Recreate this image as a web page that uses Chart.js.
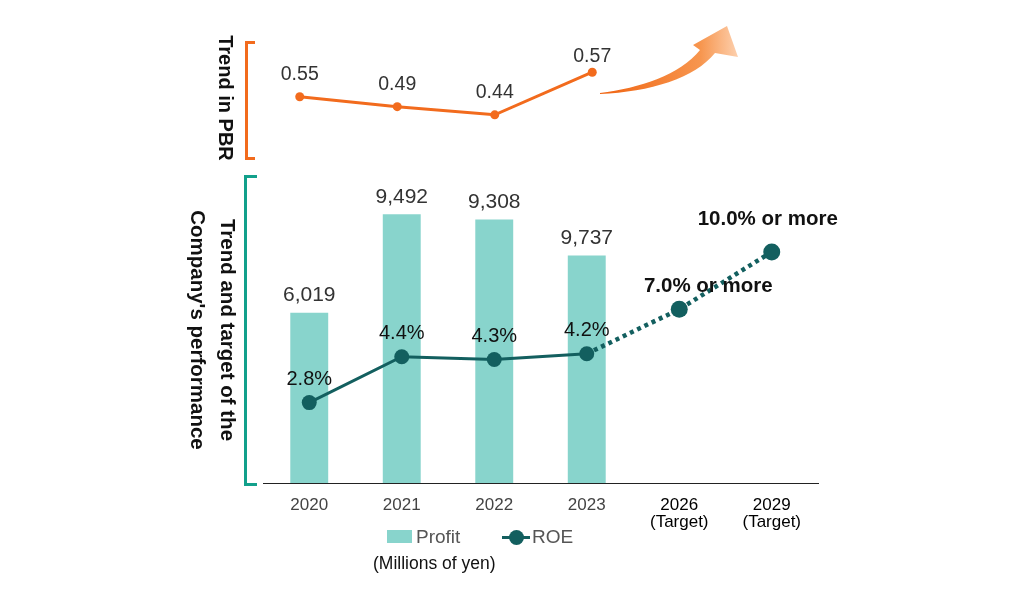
<!DOCTYPE html>
<html>
<head>
<meta charset="utf-8">
<script src="https://cdn.jsdelivr.net/npm/chart.js@4.4.1/dist/chart.umd.min.js"></script>
<style>
  html, body { margin:0; padding:0; background:#fff; }
  body { width:1020px; height:600px; position:relative; overflow:hidden; font-family:"Liberation Sans", Arial, sans-serif; }
  canvas { position:absolute; left:0; top:0; }
  .rot { position:absolute; transform:translate(-50%,-50%) rotate(90deg); white-space:nowrap; font-weight:bold; color:#111; font-size:20.5px; }
  .bracket { position:absolute; border:3px solid; border-right:none; width:7px; }
  .legend { position:absolute; font-size:19px; color:#555; line-height:22px; }
</style>
</head>
<body>
<canvas id="pbrChart" width="1020" height="600"></canvas>
<canvas id="perfChart" width="1020" height="600"></canvas>

<!-- brackets + side titles -->
<div class="bracket" style="left:245px; top:41px; height:113px; border-color:#f26b1d;"></div>
<div class="bracket" style="left:244px; top:175px; height:305px; border-color:#12a08b; width:10px;"></div>
<div class="rot" style="left:225px; top:98px; font-size:20px;">Trend in PBR</div>
<div class="rot" style="left:228px; top:330px;">Trend and target of the</div>
<div class="rot" style="left:198px; top:330px;">Company's performance</div>

<!-- curved arrow -->
<svg width="1020" height="600" style="position:absolute;left:0;top:0">
  <defs>
    <linearGradient id="arrowGrad" x1="600" y1="0" x2="740" y2="0" gradientUnits="userSpaceOnUse">
      <stop offset="0" stop-color="#f06412"/>
      <stop offset="0.72" stop-color="#f7964f"/>
      <stop offset="1" stop-color="#fdd3b3"/>
    </linearGradient>
  </defs>
  <path d="M600,93 C640,88 680,75 700,50 L693,45 L727,26 L738,57 L715,53 C695,78 650,92 600,94 Z" fill="url(#arrowGrad)"/>
</svg>

<!-- legend -->
<div style="position:absolute;left:387px;top:530px;width:25px;height:13px;background:#88d4cc"></div>
<div class="legend" style="left:416px;top:526px;">Profit</div>
<div style="position:absolute;left:502px;top:536px;width:28px;height:3px;background:#135f5f"></div>
<div style="position:absolute;left:509px;top:530px;width:15px;height:15px;border-radius:50%;background:#135f5f"></div>
<div class="legend" style="left:532px;top:526px;">ROE</div>
<div class="legend" style="left:373px;top:552px;font-size:17.5px;color:#111;">(Millions of yen)</div>

<script>
// ── DATI ─────────────────────────────────────

const pbrYears = ['2020', '2021', '2022', '2023'];
const pbrLabels = ['0.55', '0.49', '0.44', '0.57'];
// heights as drawn in the figure (the 2023 point is not to scale)
const pbrDrawn = [0.55, 0.49, 0.44, 0.70];

const years = ['2020', '2021', '2022', '2023', ['2026', '(Target)'], ['2029', '(Target)']];
const profitLabels = ['6,019', '9,492', '9,308', '9,737', '', ''];
// bar heights as drawn (millions of yen)
const profitDrawn = [6019, 9492, 9308, 8040, null, null];
const roeLabels = ['2.8%', '4.4%', '4.3%', '4.2%', '7.0% or more', '10.0% or more'];
// point heights as drawn (%)
const roeDrawn = [2.8, 4.4, 4.3, 4.5, 6.05, 8.05];

const ORANGE = '#f26b1d';
const BAR = '#88d4cc';
const ROE = '#135f5f';
const FONT = '"Liberation Sans", Arial, sans-serif';

Chart.defaults.font.family = FONT;

// ── ETICHETTE ────────────────────────────────

const pbrLabelPlugin = {
  id: 'pbrLabels',
  afterDatasetsDraw(chart) {
    const ctx = chart.ctx;
    const meta = chart.getDatasetMeta(0);
    ctx.save();
    ctx.font = '19.5px ' + FONT;
    ctx.fillStyle = '#333';
    ctx.textAlign = 'center';
    ctx.textBaseline = 'middle';
    meta.data.forEach((pt, i) => ctx.fillText(pbrLabels[i], pt.x, pt.y - (i === 3 ? 16 : 22)));
    ctx.restore();
  }
};

const perfLabelPlugin = {
  id: 'perfLabels',
  afterDatasetsDraw(chart) {
    const ctx = chart.ctx;
    ctx.save();
    ctx.textAlign = 'center';
    ctx.textBaseline = 'middle';

    // profit
    ctx.font = '21px ' + FONT;
    ctx.fillStyle = '#333';
    chart.getDatasetMeta(1).data.forEach((bar, i) => {
      if (profitDrawn[i] == null) return;
      ctx.fillText(profitLabels[i], bar.x, bar.y - 17);
    });

    // ROE
    ctx.fillStyle = '#111';
    chart.getDatasetMeta(0).data.forEach((pt, i) => {
      if (i < 4) {
        ctx.font = '20px ' + FONT;
        ctx.fillText(roeLabels[i], pt.x, pt.y - 23);
      } else {
        ctx.font = 'bold 20.5px ' + FONT;
        const dx = i === 4 ? 29 : -4;
        const dy = i === 4 ? -23 : -33;
        ctx.fillText(roeLabels[i], pt.x + dx, pt.y + dy);
      }
    });
    ctx.restore();
  }
};

// ── GRAFICO PBR ──────────────────────────────

new Chart(document.getElementById('pbrChart'), {
  type: 'line',
  data: {
    labels: pbrYears,
    datasets: [{
      label: 'PBR',
      data: pbrDrawn,
      borderColor: ORANGE,
      backgroundColor: ORANGE,
      borderWidth: 3,
      pointRadius: 4.5,
      pointBackgroundColor: ORANGE,
      pointBorderWidth: 0,
      tension: 0
    }]
  },
  options: {
    responsive: false,
    animation: false,
    layout: { padding: { left: 251, right: 379, top: 64, bottom: 454 } },
    plugins: { legend: { display: false }, tooltip: { enabled: false } },
    scales: {
      x: { display: false, offset: true },
      y: { display: false, min: 0.25, max: 0.75 }
    }
  },
  plugins: [pbrLabelPlugin]
});

// ── GRAFICO PROFIT / ROE ─────────────────────

new Chart(document.getElementById('perfChart'), {
  type: 'bar',
  data: {
    labels: years,
    datasets: [
      {
        type: 'line',
        label: 'ROE',
        data: roeDrawn,
        yAxisID: 'y2',
        order: 0,
        borderColor: ROE,
        backgroundColor: ROE,
        borderWidth: 3,
        pointRadius: [7.5, 7.5, 7.5, 7.5, 8.5, 8.5],
        pointBackgroundColor: ROE,
        pointBorderWidth: 0,
        tension: 0,
        segment: {
          borderDash: c => c.p0DataIndex >= 3 ? [4, 4] : undefined,
          borderWidth: c => c.p0DataIndex >= 3 ? 4.5 : 3
        }
      },
      {
        type: 'bar',
        label: 'Profit',
        data: profitDrawn,
        yAxisID: 'y',
        order: 1,
        backgroundColor: BAR,
        barPercentage: 0.41,
        categoryPercentage: 1
      }
    ]
  },
  options: {
    responsive: false,
    animation: false,
    layout: { padding: { left: 263, right: 202, top: 183, bottom: 63 } },
    plugins: { legend: { display: false }, tooltip: { enabled: false } },
    scales: {
      x: {
        offset: true,
        grid: { display: false },
        border: { display: true, color: '#222', width: 1 },
        ticks: {
          padding: 6,
          maxRotation: 0,
          autoSkip: false,
          color: c => c.index >= 4 ? '#000' : '#444',
          font: { size: 17, lineHeight: 1.0 }
        }
      },
      y: { display: false, min: 0, max: 10600 },
      y2: { display: false, min: 0, max: 10.45 }
    }
  },
  plugins: [perfLabelPlugin]
});
</script>
</body>
</html>
